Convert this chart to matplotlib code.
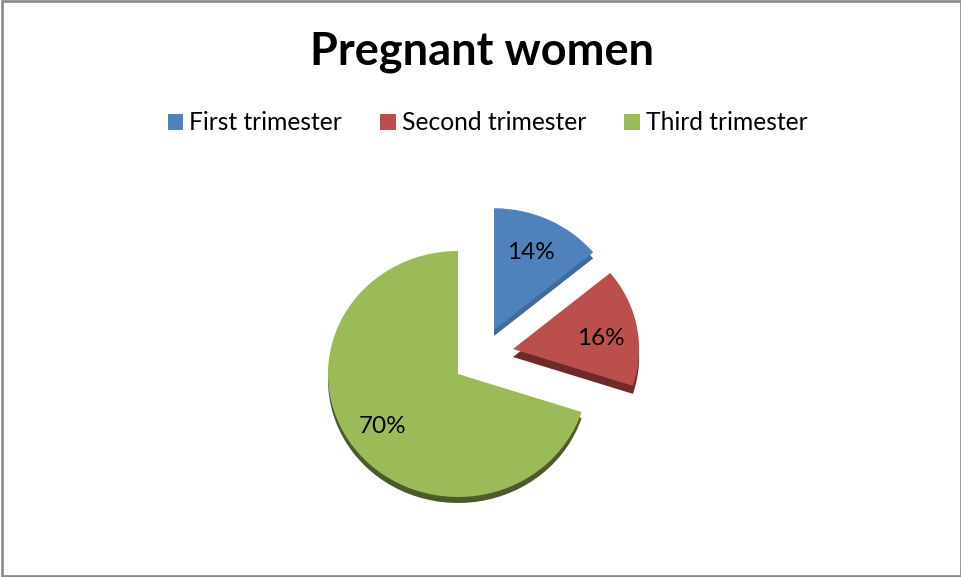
import matplotlib
matplotlib.use("Agg")
import matplotlib.pyplot as plt
from matplotlib.patches import Rectangle

W, H = 961, 577

labels = ["First trimester", "Second trimester", "Third trimester"]
shares = [14, 16, 70]
pct_labels = ["14%", "16%", "70%"]

face_colors = ["#4F81BD", "#BA4F4C", "#9BBB59"]
side_colors = ["#3F6A9E", "#6E2A29", "#4C5A2C"]

plt.rcParams["font.family"] = ["Lato", "DejaVu Sans"]

fig = plt.figure(figsize=(W / 100, H / 100), dpi=100, facecolor="white")

# page frame
fig.add_artist(Rectangle((1.5 / W, 1 / H), (W - 2) / W, (H - 2) / H, transform=fig.transFigure,
                         facecolor="none", edgecolor="#8A8A8A", linewidth=1.9))

# pie squashed a little, to look like the tilted 3d one
cx, cy, rx, ry = 458, 372, 130, 123
scale = 1.5
ax = fig.add_axes([(cx - rx * scale) / W, 1 - (cy + ry * scale) / H, 2 * rx * scale / W, 2 * ry * scale / H])

# pull-out, side depth and size of each slice
offsets = [(36, 42), (55, 23), (0, -2)]
depths = [6, 8, 6]
radii = [0.99, 0.97, 1.0]

sides, _ = ax.pie(shares, colors=side_colors, startangle=90, counterclock=False)
faces, _ = ax.pie(shares, colors=face_colors, startangle=90, counterclock=False)
for side, face, (dx, dy), depth, r in zip(sides, faces, offsets, depths, radii):
    face.set_center((dx / rx, dy / ry))
    side.set_center((dx / rx, (dy - depth) / ry))
    face.set_radius(r)
    side.set_radius(r)

ax.set_aspect("auto")
ax.set_xlim(-scale, scale)
ax.set_ylim(-scale, scale)

# % labels
label_xy = [(531, 253), (601, 339), (383, 427)]
for text, (px, py) in zip(pct_labels, label_xy):
    ax.text((px - cx) / rx, (cy - py) / ry, text, ha="center", va="center", fontsize=17.5, color="black")

fig.text(482 / W, 1 - 52 / H, "Pregnant women", ha="center", va="center", fontsize=32.5, fontweight="bold")

handles = [Rectangle((0, 0), 1, 1, facecolor=c) for c in face_colors]
fig.legend(handles, labels, loc="center", bbox_to_anchor=(487.5 / W, 1 - 123 / H), ncol=3, frameon=False,
           fontsize=17.7, handlelength=0.63, handleheight=0.63, handletextpad=0.25, columnspacing=1.55)

fig.savefig("out.png", dpi=100)
